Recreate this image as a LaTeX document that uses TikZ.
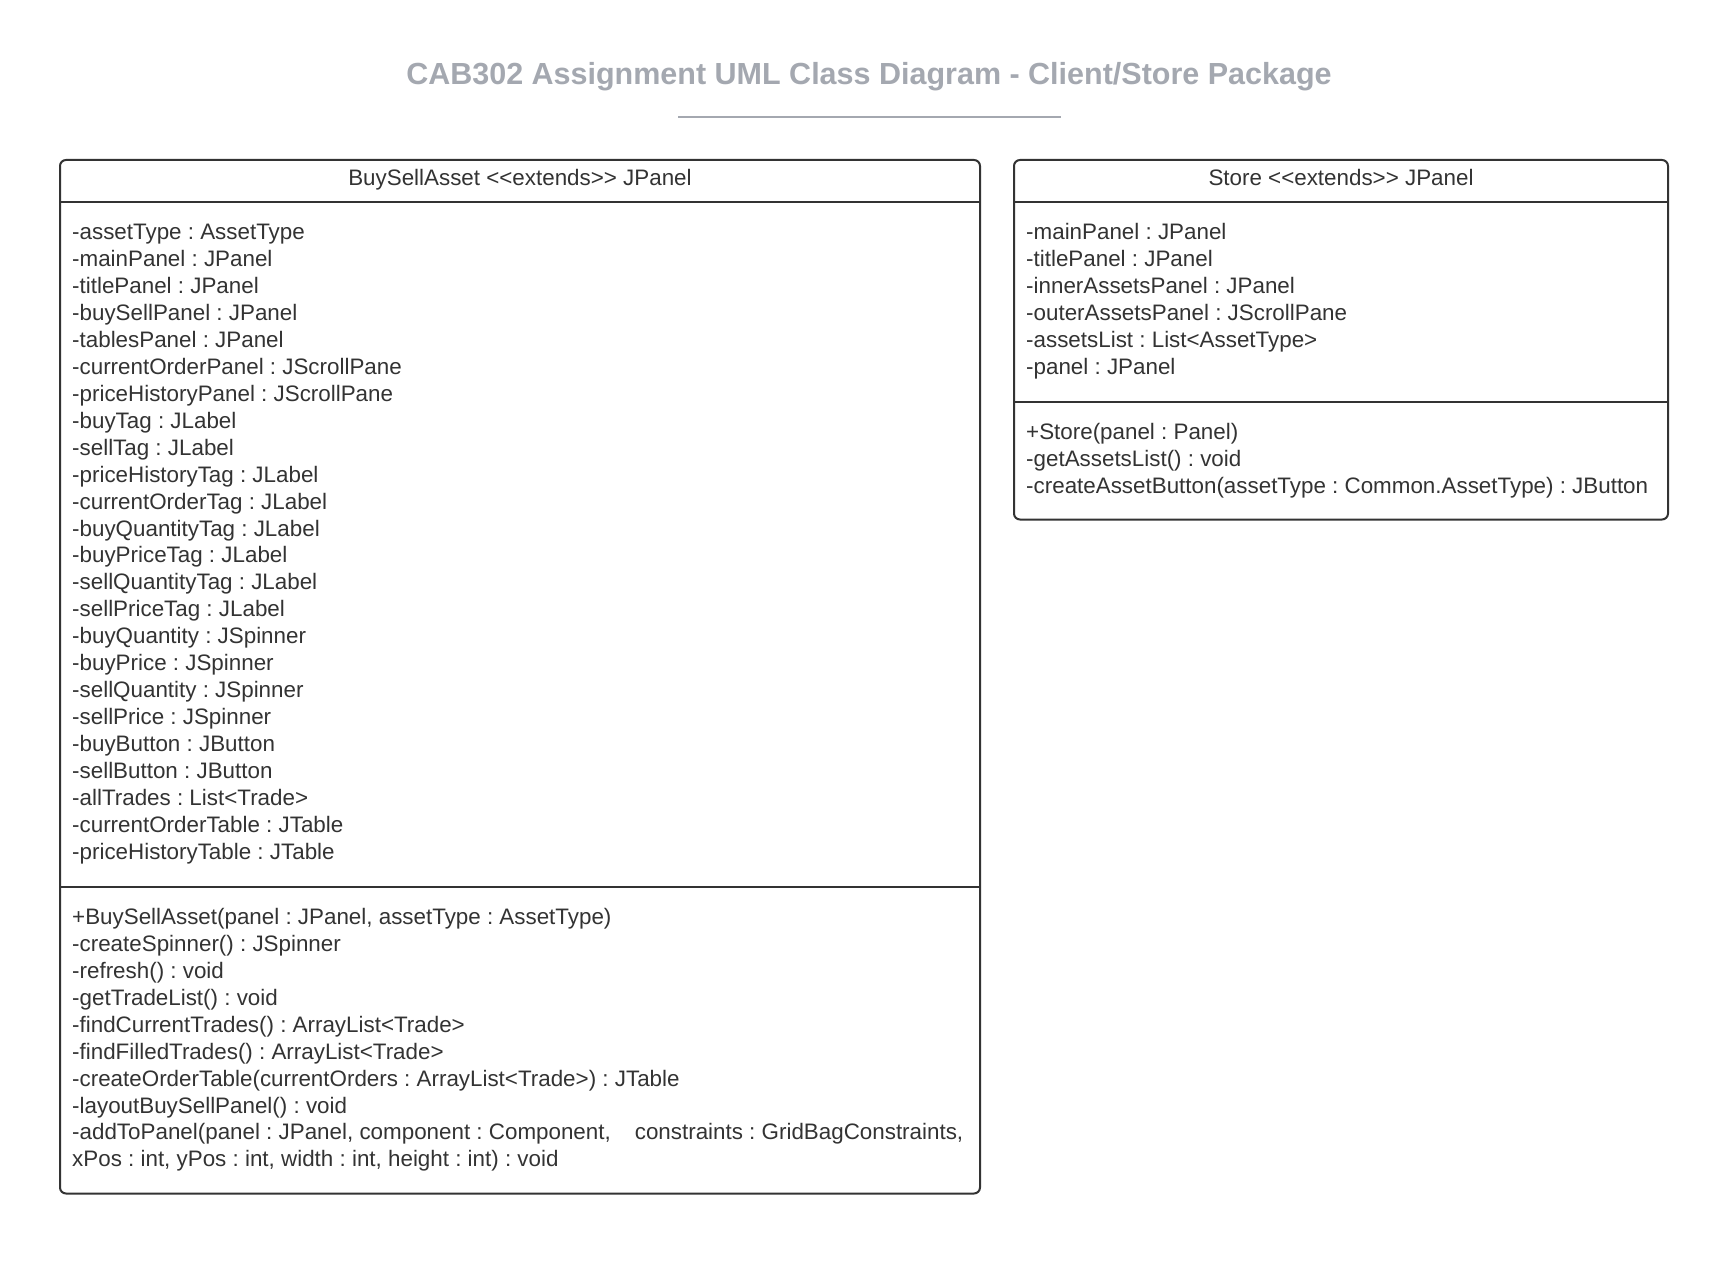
\documentclass[tikz,border=0pt]{standalone}
\usepackage{fontspec}
\setmainfont{Liberation Sans}
\definecolor{titlegray}{RGB}{164,168,176}
\definecolor{ink}{RGB}{51,51,51}
\newcommand\stlt{<\kern0pt<}
\newcommand\stgt{>\kern0pt>}
\frenchspacing
\tikzset{
  classbox/.style={draw=ink, line width=2pt, rounded corners=6pt, inner sep=0pt, outer sep=0pt, anchor=north west},
  sepline/.style={draw=ink, line width=2pt},
  member/.style={anchor=base west, inner sep=0pt, text=ink, font=\frenchspacing\fontsize{22.38}{27}\selectfont},
  header/.style={anchor=base, inner sep=0pt, text=ink, font=\frenchspacing\fontsize{22.38}{27}\selectfont},
  titletext/.style={anchor=base, inner sep=0pt, text=titlegray, font=\bfseries\fontsize{30.5}{36}\selectfont},
}
\begin{document}
\begin{tikzpicture}[x=1pt,y=-1pt]
\useasboundingbox[fill=white] (0,0) rectangle (1731,1268);

% title
\node[titletext] (title) at (869,84.5) {CAB302 Assignment UML Class Diagram - Client/Store Package};
\coordinate (ulL) at (678,117.5);
\coordinate (ulR) at (1061,117.5);
\draw[titlegray, line width=2pt] (ulL) -- (ulR);

% BuySellAsset class
\node[classbox, minimum width=920pt, minimum height=1033.5pt] (bsa) at (60,160) {};
\draw[sepline] (bsa.west |- 0,202.5) -- (bsa.east |- 0,202.5);
\draw[sepline] (bsa.west |- 0,886.7) -- (bsa.east |- 0,886.7);
\node[header] (bsaHead) at (520,185.7) {BuySellAsset \stlt extends\stgt{} JPanel};
\foreach \t [count=\i from 0] in {
  -assetType : AssetType,
  -mainPanel : JPanel,
  -titlePanel : JPanel,
  -buySellPanel : JPanel,
  -tablesPanel : JPanel,
  -currentOrderPanel : JScrollPane,
  -priceHistoryPanel : JScrollPane,
  -buyTag : JLabel,
  -sellTag : JLabel,
  -priceHistoryTag : JLabel,
  -currentOrderTag : JLabel,
  -buyQuantityTag : JLabel,
  -buyPriceTag : JLabel,
  -sellQuantityTag : JLabel,
  -sellPriceTag : JLabel,
  -buyQuantity : JSpinner,
  -buyPrice : JSpinner,
  -sellQuantity : JSpinner,
  -sellPrice : JSpinner,
  -buyButton : JButton,
  -sellButton : JButton,
  -allTrades : List<Trade>,
  -currentOrderTable : JTable,
  -priceHistoryTable : JTable}
  \node[member] (bsaAttr\i) at (72,239.8+\i*26.93) {\t};
\foreach \t [count=\i from 0] in {
  {+BuySellAsset(panel : JPanel, assetType : AssetType)},
  -createSpinner() : JSpinner,
  -refresh() : void,
  -getTradeList() : void,
  -findCurrentTrades() : ArrayList<Trade>,
  -findFilledTrades() : ArrayList<Trade>,
  -createOrderTable(currentOrders : ArrayList<Trade>) : JTable,
  -layoutBuySellPanel() : void,
  {-addToPanel(panel : JPanel, component : Component,\hspace{24pt}constraints : GridBagConstraints,},
  {xPos : int, yPos : int, width : int, height : int) : void}}
  \node[member] (bsaOp\i) at (72,924.5+\i*26.93) {\t};

% Store class
\node[classbox, minimum width=654pt, minimum height=359.5pt] (store) at (1014,160) {};
\draw[sepline] (store.west |- 0,202.5) -- (store.east |- 0,202.5);
\draw[sepline] (store.west |- 0,402) -- (store.east |- 0,402);
\node[header] (storeHead) at (1341,185.7) {Store \stlt extends\stgt{} JPanel};
\foreach \t [count=\i from 0] in {
  -mainPanel : JPanel,
  -titlePanel : JPanel,
  -innerAssetsPanel : JPanel,
  -outerAssetsPanel : JScrollPane,
  -assetsList : List<AssetType>,
  -panel : JPanel}
  \node[member] (storeAttr\i) at (1026,239.8+\i*26.93) {\t};
\foreach \t [count=\i from 0] in {
  +Store(panel : Panel),
  -getAssetsList() : void,
  -createAssetButton(assetType : Common.AssetType) : JButton}
  \node[member] (storeOp\i) at (1026,439.5+\i*26.93) {\t};
\end{tikzpicture}
\end{document}
